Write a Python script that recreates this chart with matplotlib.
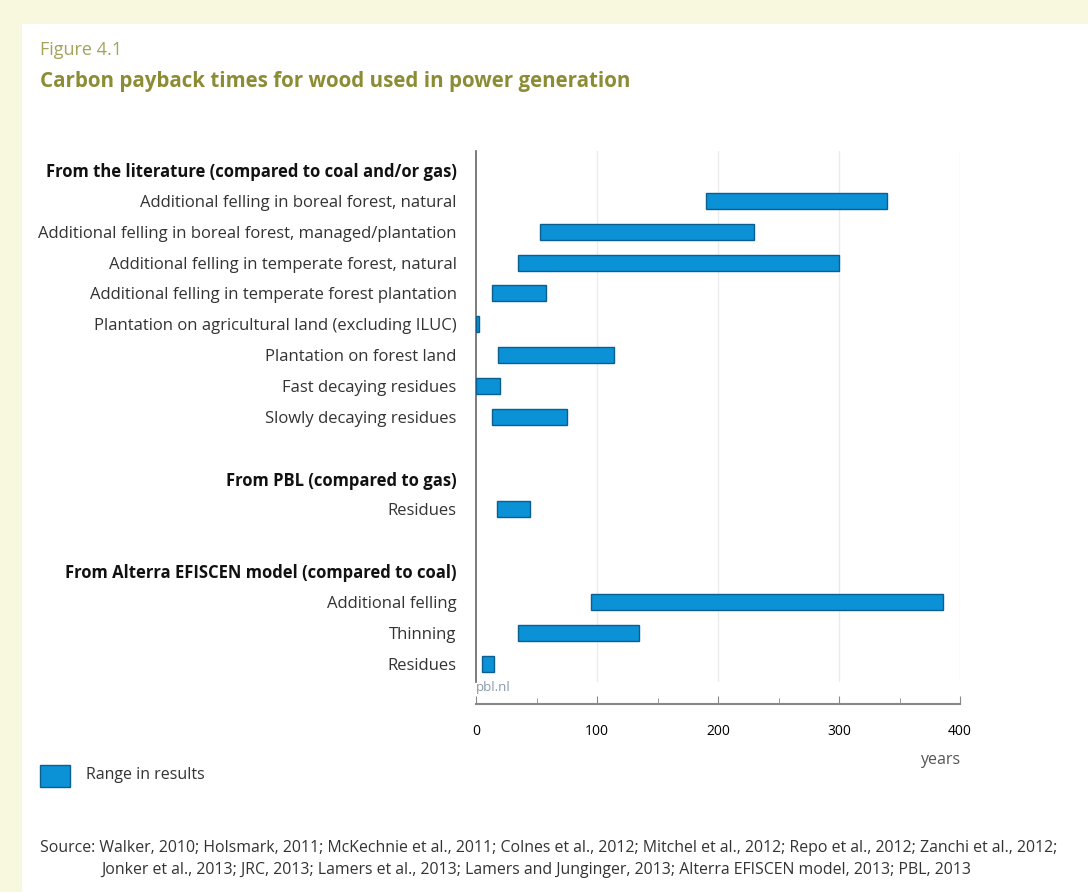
import matplotlib.pyplot as plt
from matplotlib.patches import Rectangle

plt.rcParams['font.family'] = ['Open Sans', 'DejaVu Sans']

# rows from top to bottom; None = no bar (group header / spacer)
labels = [
    'From the literature (compared to coal and/or gas)',
    'Additional felling in boreal forest, natural',
    'Additional felling in boreal forest, managed/plantation',
    'Additional felling in temperate forest, natural',
    'Additional felling in temperate forest plantation',
    'Plantation on agricultural land (excluding ILUC)',
    'Plantation on forest land',
    'Fast decaying residues',
    'Slowly decaying residues',
    '',
    'From PBL (compared to gas)',
    'Residues',
    '',
    'From Alterra EFISCEN model (compared to coal)',
    'Additional felling',
    'Thinning',
    'Residues',
]
headers = [0, 10, 13]
low = [None, 190, 53, 35, 13, 0, 18, 0, 13, None, None, 17, None, None, 95, 35, 5]
high = [None, 340, 230, 300, 58, 2.5, 114, 20, 75, None, None, 45, None, None, 386, 135, 15]
xticks = [0, 100, 200, 300, 400]

bar_color = '#0a91d6'
edge_color = '#0a5f8f'
text_color = '#333333'

W, H = 1088, 892
fig = plt.figure(figsize=(W / 100, H / 100), dpi=100)
fig.patch.set_facecolor('#f8f8df')
fig.patches.append(Rectangle((22 / W, 0), 1, 1 - 24 / H, transform=fig.transFigure,
                             facecolor='white', edgecolor='none', zorder=-5))

n = len(labels)
top_px, step = 170, 30.85
ylo, yhi = -0.6, n - 1 + 0.6
ax_top = top_px - 0.6 * step
ax_h = (yhi - ylo) * step
x0_px, x1_px = 476, 960
ax = fig.add_axes([x0_px / W, 1 - (ax_top + ax_h) / H, (x1_px - x0_px) / W, ax_h / H])
ax.set_facecolor('none')
ax.set_zorder(2)

ys = list(range(n))
for y, lo, hi in zip(ys, low, high):
    if lo is None:
        continue
    ax.barh(y, hi - lo, left=lo, height=0.52, color=bar_color,
            edgecolor=edge_color, linewidth=1.0, zorder=3)

ax.set_xlim(0, 400)
ax.set_ylim(yhi, ylo)
ax.set_xticks(xticks)
ax.set_xticks([50, 150, 250, 350], minor=True)
ax.set_xticklabels([str(t) for t in xticks], color='#555555', fontsize=11.5)
ax.tick_params(axis='x', which='major', direction='in', length=6, pad=14, color='#888888')
ax.tick_params(axis='x', which='minor', direction='in', length=4, color='#888888')
for t in xticks[1:]:
    ax.axvline(t, color='#ebebeb', linewidth=1, zorder=0)

ax.set_yticks(ys)
ax.set_yticklabels(labels, fontsize=12, color=text_color)
ax.tick_params(axis='y', length=0, pad=14)
for i, lab in enumerate(ax.get_yticklabels()):
    if i in headers:
        lab.set_fontweight('bold')
        lab.set_color('#111111')

for s in ['top', 'right']:
    ax.spines[s].set_visible(False)
ax.spines['left'].set_color('#666666')
ax.spines['left'].set_linewidth(1.2)
ax.spines['bottom'].set_position(('outward', 16))
ax.spines['bottom'].set_color('#888888')
ax.spines['bottom'].set_linewidth(1.5)

fig.text(40 / W, 1 - 50 / H, 'Figure 4.1', fontsize=13, color='#a3a35c', va='center')
fig.text(40 / W, 1 - 82 / H, 'Carbon payback times for wood used in power generation',
         fontsize=14.8, fontweight='bold', color='#8c8c34', va='center')
fig.text(476 / W, 1 - 688 / H, 'pbl.nl', fontsize=9.5, color='#8899aa', va='center')
fig.text(940 / W, 1 - 760 / H, 'years', fontsize=11.5, color='#555555', ha='center', va='center')

fig.patches.append(Rectangle((40 / W, 1 - 787 / H), 30 / W, 22 / H, transform=fig.transFigure,
                             facecolor=bar_color, edgecolor=edge_color, linewidth=1))
fig.text(86 / W, 1 - 775 / H, 'Range in results', fontsize=11.5, color=text_color, va='center')

fig.text(40 / W, 1 - 848 / H,
         'Source: Walker, 2010; Holsmark, 2011; McKechnie et al., 2011; Colnes et al., 2012; '
         'Mitchel et al., 2012; Repo et al., 2012; Zanchi et al., 2012;',
         fontsize=11.4, color=text_color, va='center')
fig.text(101 / W, 1 - 870 / H,
         'Jonker et al., 2013; JRC, 2013; Lamers et al., 2013; Lamers and Junginger, 2013; '
         'Alterra EFISCEN model, 2013; PBL, 2013',
         fontsize=11.4, color=text_color, va='center')

fig.savefig('out.png', dpi=100)
